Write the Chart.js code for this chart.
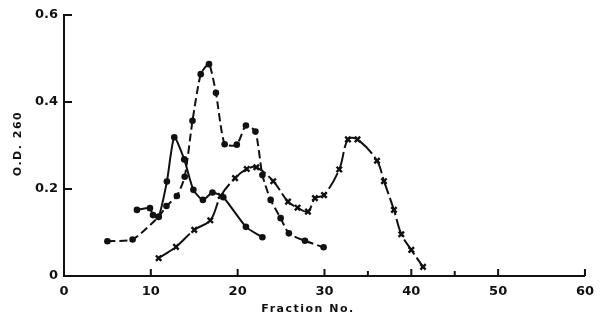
<!DOCTYPE html>
<html>
<head>
<meta charset="utf-8">
<script src="https://cdn.jsdelivr.net/npm/chart.js@4.4.1/dist/chart.umd.min.js"></script>
<style>
  html, body { margin: 0; padding: 0; background: #fff; }
  #wrap { width: 602px; height: 324px; position: relative; }
</style>
</head>
<body>
<div id="wrap"><canvas id="chart"></canvas></div>
<script>
// fraction numbers and O.D. 260 readings
const DASHED_X = [5.0, 7.9, 10.9, 11.8, 13.0, 13.9, 14.8, 15.75, 16.7, 17.5, 18.5, 19.9, 20.95, 22.05, 22.85, 23.8, 24.95, 25.9, 27.75, 29.9];
const DASHED_Y = [0.080, 0.084, 0.136, 0.161, 0.184, 0.228, 0.357, 0.464, 0.487, 0.421, 0.303, 0.302, 0.346, 0.332, 0.232, 0.175, 0.133, 0.098, 0.081, 0.066];

const SOLID_X = [8.4, 9.9, 10.25, 10.9, 11.85, 12.7, 13.85, 14.9, 16.0, 17.1, 18.35, 20.95, 22.85];
const SOLID_Y = [0.152, 0.156, 0.140, 0.136, 0.217, 0.319, 0.268, 0.198, 0.175, 0.192, 0.181, 0.113, 0.089];

const CROSS_X = [10.9, 12.9, 15.0, 16.85, 18.05, 19.7, 21.05, 22.15, 24.1, 25.8, 26.9, 28.1, 28.9, 29.95, 31.7, 32.7, 33.8, 36.05, 36.85, 38.0, 38.85, 40.0, 41.35];
const CROSS_Y = [0.041, 0.067, 0.106, 0.128, 0.184, 0.225, 0.246, 0.250, 0.218, 0.171, 0.157, 0.148, 0.179, 0.186, 0.245, 0.314, 0.314, 0.265, 0.218, 0.152, 0.096, 0.060, 0.021];

const X_TICKS = [0, 10, 20, 30, 40, 50, 60];
const X_MINOR = [35, 45];
const Y_TICKS = [0, 0.2, 0.4, 0.6];

const INK = '#111';
const FONT = '"DejaVu Sans", sans-serif';

function toPoints(xs, ys) {
  return xs.map((x, i) => ({ x, y: ys[i] }));
}

const inwardTicks = {
  id: 'inwardTicks',
  afterDraw(chart) {
    const { ctx, scales: { x, y } } = chart;
    ctx.save();
    ctx.strokeStyle = INK;
    ctx.lineWidth = 2;
    ctx.beginPath();
    X_TICKS.slice(1).forEach((v) => {
      const px = x.getPixelForValue(v);
      ctx.moveTo(px, y.bottom); ctx.lineTo(px, y.bottom - 7);
    });
    X_MINOR.forEach((v) => {
      const px = x.getPixelForValue(v);
      ctx.moveTo(px, y.bottom); ctx.lineTo(px, y.bottom - 5);
    });
    Y_TICKS.slice(1).forEach((v) => {
      const py = y.getPixelForValue(v);
      ctx.moveTo(x.left, py); ctx.lineTo(x.left + 8, py);
    });
    ctx.stroke();

    ctx.fillStyle = INK;
    ctx.font = `bold 11px ${FONT}`;
    if ('letterSpacing' in ctx) ctx.letterSpacing = '1.5px';
    ctx.textAlign = 'center';
    ctx.textBaseline = 'middle';
    ctx.fillText('Fraction No.', 308, 309);
    ctx.translate(18, (y.top + y.bottom) / 2 - 2);
    ctx.rotate(-Math.PI / 2);
    ctx.fillText('O.D. 260', 0, 0);
    ctx.restore();
  }
};

new Chart(document.getElementById('chart'), {
  type: 'line',
  data: {
    datasets: [
      {
        data: toPoints(DASHED_X, DASHED_Y),
        borderColor: INK,
        backgroundColor: INK,
        borderWidth: 2,
        borderDash: [8, 4],
        pointRadius: 3.3,
        pointBorderWidth: 0,
        tension: 0.2
      },
      {
        data: toPoints(SOLID_X, SOLID_Y),
        borderColor: INK,
        backgroundColor: INK,
        borderWidth: 2,
        pointRadius: 3.3,
        pointBorderWidth: 0,
        tension: 0.2
      },
      {
        data: toPoints(CROSS_X, CROSS_Y),
        borderColor: INK,
        backgroundColor: INK,
        borderWidth: 2,
        borderDash: [18, 4],
        pointStyle: 'crossRot',
        pointRadius: 3.8,
        pointBorderWidth: 2.4,
        tension: 0.35
      }
    ]
  },
  options: {
    responsive: true,
    maintainAspectRatio: false,
    animation: false,
    layout: { padding: { top: 15, right: 16, left: 0, bottom: 0 } },
    plugins: { legend: { display: false }, tooltip: { enabled: false } },
    scales: {
      x: {
        type: 'linear',
        min: 0,
        max: 60,
        afterFit: (scale) => { scale.height = 48; },
        afterBuildTicks: (scale) => { scale.ticks = X_TICKS.map((v) => ({ value: v })); },
        ticks: {
          padding: 8,
          color: INK,
          font: { family: FONT, size: 13, weight: 'bold' },
          callback: (v) => String(v)
        },
        grid: { display: false, drawTicks: false },
        border: { display: true, color: INK, width: 2 }
      },
      y: {
        min: 0,
        max: 0.6,
        afterFit: (scale) => { scale.width = 64; },
        afterBuildTicks: (scale) => { scale.ticks = Y_TICKS.map((v) => ({ value: v })); },
        ticks: {
          padding: 6,
          color: INK,
          font: { family: FONT, size: 13, weight: 'bold' },
          callback: (v) => (v === 0 ? '0' : (Math.round(v * 10) / 10).toFixed(1))
        },
        grid: { display: false, drawTicks: false },
        border: { display: true, color: INK, width: 2 }
      }
    }
  },
  plugins: [inwardTicks]
});
</script>
</body>
</html>
